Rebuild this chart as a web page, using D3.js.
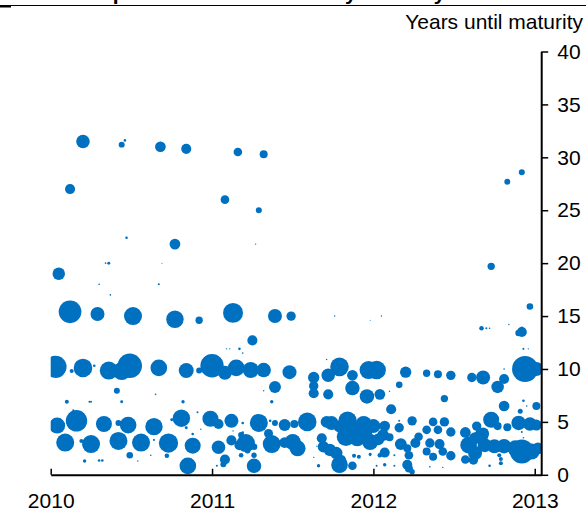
<!DOCTYPE html>
<html lang="en">
<head>
    <meta charset="UTF-8">
    <title>Issuance by maturity</title>
    <script src="https://d3js.org/d3.v7.min.js"></script>
    <style>
        body { margin: 0; background: #fff; }
        text { font-family: Arial, "Liberation Sans", sans-serif; }
    </style>
</head>
<body>
    <div id="chart"></div>
    <script>

    // each issue: [issue date (decimal year), years until maturity, size]
    const longBonds = [
        [2010.05, 19.0, 23], [2010.12, 27.0, 15], [2010.20, 31.5, 27], [2010.30, 18.0, 0.4],
        [2010.34, 20.0, 0.4], [2010.36, 20.0, 1.3], [2010.37, 17.0, 0.4], [2010.44, 31.2, 5.3],
        [2010.46, 31.6, 1.0], [2010.47, 22.4, 1.0], [2010.67, 18.0, 0.6], [2010.68, 31.0, 17],
        [2010.69, 20.0, 0.15], [2010.77, 21.8, 17], [2010.84, 30.8, 15], [2011.08, 26.0, 11],
        [2011.16, 30.5, 11], [2011.27, 21.8, 0.3], [2011.29, 25.0, 5.3], [2011.32, 30.3, 9.5],
        [2012.73, 19.7, 8], [2012.83, 27.7, 5.3], [2012.92, 28.6, 5.3]
    ];

    const fifteenYear = [
        [2010.12, 15.4, 76], [2010.29, 15.2, 29], [2010.51, 15.0, 48], [2010.77, 14.7, 45],
        [2010.92, 14.6, 8], [2011.13, 15.3, 59], [2011.39, 15.0, 29], [2011.49, 15.0, 13],
        [2011.76, 15.0, 0.3], [2011.98, 14.6, 0.15], [2012.05, 15.0, 0.3], [2012.67, 13.85, 3],
        [2012.70, 13.85, 0.6], [2012.72, 13.85, 0.4], [2012.84, 14.2, 0.3], [2012.90, 13.4, 6.4],
        [2012.92, 13.5, 15], [2012.92, 13.9, 1.0], [2012.97, 15.9, 6.4]
    ];

    const tenYear = [
        [2010.03, 10.2, 72], [2010.13, 9.8, 2.4], [2010.20, 10.1, 51], [2010.27, 10.3, 1.0],
        [2010.36, 9.85, 48], [2010.44, 9.8, 48], [2010.49, 10.3, 89], [2010.67, 10.1, 41],
        [2010.84, 9.85, 33], [2010.92, 9.85, 5.3], [2011.00, 10.3, 81], [2011.08, 9.65, 29],
        [2011.09, 11.9, 0.3], [2011.11, 11.9, 0.3], [2011.15, 10.1, 42], [2011.17, 11.9, 1.0],
        [2011.19, 11.5, 0.4], [2011.24, 9.9, 38], [2011.25, 12.7, 15], [2011.32, 9.9, 31],
        [2011.39, 8.3, 21], [2011.48, 9.7, 29], [2011.63, 9.2, 19], [2011.63, 8.4, 13],
        [2011.63, 7.7, 15], [2011.71, 10.9, 0.3], [2011.72, 9.4, 27], [2011.72, 7.6, 15],
        [2011.79, 10.2, 51], [2011.87, 9.4, 17], [2011.87, 8.2, 31], [2011.96, 7.4, 31],
        [2011.97, 9.9, 48], [2012.02, 9.9, 51], [2012.04, 7.6, 17], [2012.10, 7.9, 0.3],
        [2012.16, 8.5, 6.4], [2012.20, 9.7, 19], [2012.33, 9.6, 8], [2012.40, 9.5, 9.5],
        [2012.48, 9.4, 13], [2012.61, 9.2, 13], [2012.68, 9.2, 29], [2012.77, 8.3, 23],
        [2012.81, 9.05, 15], [2012.81, 10.0, 0.4], [2012.93, 11.9, 0.6], [2012.94, 10.0, 100],
        [2012.96, 11.9, 0.3], [2013.01, 10.0, 29]
    ];

    const sevenYear = [
        [2010.10, 6.9, 2.4], [2010.14, 6.1, 0.6], [2010.24, 6.9, 0.6], [2010.25, 6.9, 0.6],
        [2010.41, 7.95, 5.3], [2010.44, 6.9, 1.3], [2010.65, 7.6, 0.4], [2010.82, 6.9, 1.7],
        [2010.91, 5.9, 0.6], [2011.32, 7.95, 0.3], [2011.37, 6.9, 1.7], [2012.11, 6.2, 15],
        [2012.44, 7.2, 8], [2012.81, 6.5, 17], [2012.91, 6.0, 3.7], [2012.93, 7.0, 1.0],
        [2012.95, 6.5, 0.4], [2013.01, 6.5, 9.5]
    ];

    const fiveYear = [
        [2010.04, 4.65, 38], [2010.16, 5.1, 68], [2010.33, 4.8, 38], [2010.42, 4.9, 5.3],
        [2010.48, 4.7, 41], [2010.64, 4.55, 45], [2010.75, 5.2, 1.3], [2010.81, 5.35, 45],
        [2010.84, 4.45, 1.3], [2010.88, 3.85, 1.0], [2010.93, 4.3, 0.3], [2010.99, 5.3, 38],
        [2011.04, 4.8, 15], [2011.12, 5.1, 29], [2011.13, 4.15, 0.3], [2011.19, 4.9, 1.0],
        [2011.19, 4.0, 1.0], [2011.29, 4.9, 48], [2011.36, 5.1, 1.0], [2011.39, 4.9, 5.3],
        [2011.45, 4.7, 21], [2011.51, 4.8, 9.5], [2011.59, 5.0, 51], [2011.71, 5.0, 21],
        [2011.74, 4.9, 29], [2011.79, 4.55, 21], [2011.84, 5.1, 51], [2011.88, 4.25, 29],
        [2011.94, 4.8, 38], [2012.00, 4.6, 29], [2012.07, 4.6, 17], [2012.16, 4.45, 13],
        [2012.16, 5.1, 0.6], [2012.24, 5.1, 13], [2012.28, 3.6, 11], [2012.33, 4.25, 11],
        [2012.37, 5.0, 11], [2012.40, 4.25, 11], [2012.44, 5.0, 13], [2012.48, 4.05, 13],
        [2012.57, 4.0, 17], [2012.64, 4.6, 13], [2012.68, 3.9, 21], [2012.73, 5.2, 38],
        [2012.77, 4.6, 9.5], [2012.83, 4.5, 9.5], [2012.90, 4.9, 31], [2012.92, 4.05, 0.6],
        [2012.93, 3.5, 0.4], [2012.97, 4.8, 27], [2013.01, 4.7, 18]
    ];

    const threeYear = [
        [2010.09, 3.05, 48], [2010.19, 3.2, 2.4], [2010.21, 1.3, 1.7], [2010.25, 2.9, 48],
        [2010.30, 1.35, 1.0], [2010.32, 1.35, 1.0], [2010.42, 3.2, 48], [2010.49, 1.85, 6.4],
        [2010.54, 1.3, 0.3], [2010.56, 3.05, 48], [2010.62, 1.85, 0.4], [2010.64, 3.3, 0.6],
        [2010.72, 1.8, 3.1], [2010.73, 3.0, 55], [2010.85, 0.85, 41], [2010.88, 2.75, 38],
        [2011.03, 0.85, 0.6], [2011.04, 2.6, 27], [2011.07, 1.0, 5.3], [2011.08, 1.45, 15],
        [2011.12, 3.25, 15], [2011.17, 2.8, 15], [2011.18, 3.75, 5.3], [2011.18, 1.85, 3.1],
        [2011.21, 3.0, 48], [2011.22, 2.3, 5.3], [2011.26, 2.65, 6.4], [2011.26, 1.85, 4.3],
        [2011.26, 0.85, 31], [2011.35, 3.9, 12], [2011.37, 2.9, 48], [2011.45, 3.05, 17],
        [2011.50, 3.1, 38], [2011.53, 2.5, 38], [2011.63, 1.65, 0.3], [2011.65, 2.7, 0.3],
        [2011.66, 0.85, 1.7], [2011.68, 3.45, 15], [2011.69, 2.65, 19], [2011.73, 2.35, 23],
        [2011.77, 2.05, 23], [2011.79, 0.95, 41], [2011.80, 1.4, 15], [2011.83, 3.6, 51],
        [2011.87, 0.85, 11], [2011.88, 1.8, 2.4], [2011.90, 3.45, 38], [2011.91, 1.7, 2.4],
        [2011.94, 3.75, 45], [2011.98, 3.1, 38], [2011.98, 1.95, 1.3], [2011.98, 1.85, 0.6],
        [2012.02, 0.85, 0.6], [2012.03, 3.35, 21], [2012.04, 1.85, 3.1], [2012.06, 3.75, 21],
        [2012.07, 2.1, 15], [2012.07, 0.95, 1.7], [2012.10, 3.55, 9.5], [2012.13, 1.85, 0.6],
        [2012.13, 0.85, 0.6], [2012.17, 2.9, 21], [2012.21, 2.5, 9.5], [2012.21, 0.95, 15],
        [2012.22, 1.85, 11], [2012.22, 0.6, 9.5], [2012.24, 0.3, 4.3], [2012.26, 3.0, 15],
        [2012.33, 2.2, 9.5], [2012.35, 3.0, 13], [2012.35, 0.75, 0.4], [2012.37, 1.7, 9.5],
        [2012.41, 2.9, 15], [2012.43, 2.2, 11], [2012.43, 0.7, 0.3], [2012.48, 1.8, 13],
        [2012.57, 1.45, 11], [2012.59, 2.8, 41], [2012.62, 1.4, 13], [2012.63, 3.45, 21],
        [2012.63, 2.05, 29], [2012.67, 3.75, 29], [2012.69, 2.8, 29], [2012.72, 0.85, 1.0],
        [2012.75, 2.7, 29], [2012.78, 1.85, 2.4], [2012.79, 1.5, 2.4], [2012.79, 1.1, 2.4],
        [2012.81, 2.7, 31], [2012.88, 2.5, 38], [2012.92, 2.2, 85], [2012.98, 2.2, 38],
        [2013.02, 2.5, 21]
    ];

    const yearTicks = [2010, 2011, 2012, 2013];
    const maturityTicks = [0, 5, 10, 15, 20, 25, 30, 35, 40];

    const issues = [].concat(longBonds, fifteenYear, tenYear, sevenYear, fiveYear, threeYear)
        .map(d => ({ date: d[0], maturity: d[1], size: d[2] }));

    const width = 586, height = 511;

    const svg = d3.select("#chart")
        .append("svg")
        .attr("width", width)
        .attr("height", height);

    const x = d3.scaleLinear()
        .domain([2010, 2013.04])
        .range([50.7, 541.2]);

    const y = d3.scaleLinear()
        .domain([0, 40])
        .range([474.8, 51.5]);

    const r = d3.scaleSqrt()
        .domain([0, 100])
        .range([0, 13]);

    // title sits above the crop, only its lowest pixels show
    svg.append("text")
        .attr("x", 2)
        .attr("y", -0.5)
        .attr("font-size", 21)
        .attr("font-weight", "bold")
        .text("Chart 10: Spanish debt issuance by maturity and size");

    svg.append("line")
        .attr("x1", 0).attr("x2", width)
        .attr("y1", 5.5).attr("y2", 5.5)
        .attr("stroke", "#000")
        .attr("stroke-width", 1);
    svg.append("rect")
        .attr("x", 0).attr("y", 5)
        .attr("width", 11).attr("height", 2.5)
        .attr("fill", "#000");

    svg.append("defs").append("clipPath")
        .attr("id", "clip")
        .append("rect")
        .attr("x", x.range()[0])
        .attr("y", 0)
        .attr("width", x.range()[1] - x.range()[0])
        .attr("height", y(0));

    svg.append("g")
        .attr("clip-path", "url(#clip)")
        .selectAll("circle")
        .data(issues)
        .join("circle")
        .attr("cx", d => x(d.date))
        .attr("cy", d => y(d.maturity))
        .attr("r", d => r(d.size))
        .attr("fill", "#0070c0");

    const xAxis = svg.append("g")
        .attr("transform", `translate(0,${y(0)})`)
        .call(d3.axisBottom(x)
            .tickValues(yearTicks)
            .tickFormat(d3.format("d"))
            .tickSizeInner(-6)
            .tickSizeOuter(0)
            .tickPadding(18.5));

    const yAxis = svg.append("g")
        .attr("transform", `translate(${x.range()[1]},0)`)
        .call(d3.axisRight(y)
            .tickValues(maturityTicks)
            .tickSizeInner(7)
            .tickSizeOuter(0)
            .tickPadding(9));

    [xAxis, yAxis].forEach(a => {
        a.select(".domain").attr("stroke", "#000").attr("stroke-width", 2);
        a.selectAll(".tick line").attr("stroke", "#000").attr("stroke-width", 1.5);
        a.selectAll(".tick text")
            .attr("fill", "#000")
            .attr("font-size", 21)
            .attr("font-family", "Arial, 'Liberation Sans', sans-serif");
    });

    svg.append("text")
        .attr("x", 583)
        .attr("y", 29)
        .attr("text-anchor", "end")
        .attr("font-size", 21)
        .text("Years until maturity");

    </script>
</body>
</html>
